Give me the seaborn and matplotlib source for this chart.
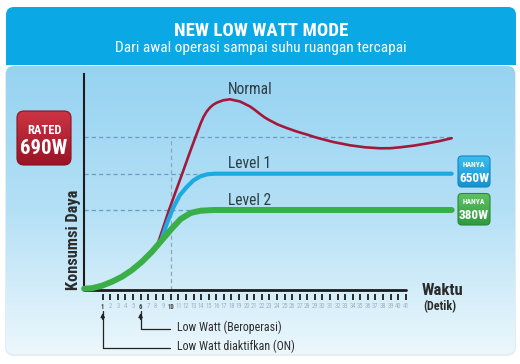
import numpy as np
import matplotlib
matplotlib.use("Agg")
import matplotlib.pyplot as plt
import seaborn as sns
from matplotlib.patches import FancyBboxPatch, Rectangle
from matplotlib.colors import LinearSegmentedColormap
from matplotlib.transforms import blended_transform_factory

# ---------------- data ----------------
normal_t = [8.1, 8.9, 9.66, 10.64, 11.6, 12.52, 13.3, 13.9, 14.3, 14.73, 15.17, 15.6,
            16.05, 16.9, 17.81, 19.13, 20.45, 21.1, 21.77, 22.4, 22.96, 24.1, 25.29,
            26.6, 27.93, 29.25, 31.44, 33.65, 35.63, 37.61, 39.0, 40.25, 42.0, 43.77,
            45.5, 47.07]
normal_p = [42.0, 60.0, 77.5, 98.0, 118.0, 137.5, 153.5, 165.5, 172.5, 178.0, 182.0, 184.8,
            186.8, 189.2, 190.2, 188.0, 183.0, 179.5, 175.5, 172.0, 169.5, 165.0, 161.5,
            158.0, 155.0, 151.8, 147.5, 144.2, 142.2, 141.2, 141.3, 142.2, 143.8, 146.0,
            148.5, 151.3]

level1_t = [8.66, 9.45, 10.32, 11.20, 12.09, 12.96, 13.84, 14.77, 15.82, 47.07]
level1_p = [48.0, 65.5, 82.0, 94.5, 102.5, 109.0, 113.0, 115.2, 115.8, 115.8]

level2_t = [-1.45, -0.41, 0.91, 2.23, 3.55, 4.87, 6.19, 7.51, 8.83, 10.15, 11.30, 12.62,
            13.94, 15.69, 47.07]
level2_p = [0.8, 1.3, 3.8, 7.8, 12.8, 19.5, 27.8, 37.8, 49.5, 61.2, 70.5, 76.6,
            78.8, 79.5, 79.5]

ref_levels = [152.2, 115.8, 79.5]          # rated 690W / Level 1 / Level 2
ref_time = 10                               # vertical reference (detik)
series_names = ["Normal", "Level 1", "Level 2"]
tick_seconds = list(range(1, 42))
highlight_ticks = [1, 6, 10]
badge_texts = [("RATED", "690W"), ("HANYA", "650W"), ("HANYA", "380W")]
notes = [(6, "Low Watt (Beroperasi)"), (1, "Low Watt diaktifkan (ON)")]

# ---------------- style ----------------
sns.set_style("white")
plt.rcParams["font.family"] = ["Roboto Condensed", "Fira Sans Condensed", "DejaVu Sans"]

W, H = 520, 364
fig = plt.figure(figsize=(W / 100, H / 100), dpi=100, facecolor="white")

# background / decoration axes in pixel coordinates
bg = fig.add_axes([0, 0, 1, 1])
bg.set_xlim(0, W)
bg.set_ylim(H, 0)
bg.axis("off")


def grad_box(x, y, w, h, r, colors, edge=None, z=1):
    cmap = LinearSegmentedColormap.from_list("g", colors)
    im = bg.imshow(np.linspace(0, 1, 256)[:, None], extent=(x, x + w, y + h, y),
                   cmap=cmap, aspect="auto", zorder=z, interpolation="bilinear")
    box = FancyBboxPatch((x, y), w, h, boxstyle=f"round,pad=0,rounding_size={r}",
                         fc="none", ec=edge if edge else "none", lw=0.8, zorder=z + 0.1)
    bg.add_patch(box)
    im.set_clip_path(box)


# chart panel (light blue gradient)
bg.add_patch(FancyBboxPatch((5, 66), 511, 290, boxstyle="round,pad=0,rounding_size=9",
                            fc="#e4edf2", ec="none", zorder=0.5))
grad_box(6, 66, 509, 288, 8, ["#96D3F1", "#B4E0F6", "#ECF7FC"], z=0.6)
# header
bg.add_patch(FancyBboxPatch((6, 7), 510, 58, boxstyle="round,pad=0,rounding_size=8",
                            fc="#0BA8E6", ec="none", zorder=2))
bg.add_patch(Rectangle((6, 40), 510, 25, fc="#0BA8E6", ec="none", zorder=2))
bg.text(261, 36, "NEW LOW WATT MODE", color="white", fontsize=13.6, weight="bold",
        ha="center", va="baseline", zorder=3)
bg.text(261, 51.7, "Dari awal operasi sampai suhu ruangan tercapai", color="white",
        fontsize=11.1, ha="center", va="baseline", zorder=3)

# badges
grad_box(17, 111, 54, 54, 7, ["#CC3443", "#9A1425"], edge="#8a1020", z=3)
bg.text(44, 134, badge_texts[0][0], color="white", fontsize=9, weight="bold",
        ha="center", va="baseline", zorder=4)
bg.text(44, 154.3, badge_texts[0][1], color="white", fontsize=15, weight="bold",
        ha="center", va="baseline", zorder=4)

grad_box(458, 156, 32, 31, 4, ["#3CBDF0", "#1592D0"], edge="#1386c0", z=3)
bg.text(474, 167.3, badge_texts[1][0], color="white", fontsize=5.5, weight="bold",
        ha="center", va="baseline", zorder=4)
bg.text(474, 181.7, badge_texts[1][1], color="white", fontsize=9.5, weight="bold",
        ha="center", va="baseline", zorder=4)

grad_box(458, 193.5, 32, 31.5, 4, ["#62C165", "#2E9A3E"], edge="#27893a", z=3)
bg.text(474, 204.3, badge_texts[2][0], color="white", fontsize=5.5, weight="bold",
        ha="center", va="baseline", zorder=4)
bg.text(474, 219, badge_texts[2][1], color="white", fontsize=9.5, weight="bold",
        ha="center", va="baseline", zorder=4)

# ---------------- main chart axes ----------------
px_l, px_r, py_t, py_b = 84, 470, 74, 289.5
ax = fig.add_axes([px_l / W, (H - py_b) / H, (px_r - px_l) / W, (py_b - py_t) / H])
ax.set_facecolor("none")
x0 = 1 + (px_l - 102.7) / 7.575
x1 = 1 + (px_r - 102.7) / 7.575
ax.set_xlim(x0, x1)
ax.set_ylim(0, py_b - py_t)

# reference dashed lines
line_end = level2_t[-1]
ax.hlines(ref_levels, x0, line_end, colors="#6C9EC0", linewidth=0.9,
          linestyles=(0, (3.4, 2.4)), zorder=1)
ax.vlines(ref_time, 0, ref_levels[0], colors="#8AA9BF", linewidth=0.9,
          linestyles=(0, (3.4, 2.4)), zorder=1)

sns.lineplot(x=normal_t, y=normal_p, ax=ax, color="#A3193B", linewidth=1.9,
             solid_capstyle="round", solid_joinstyle="round", clip_on=False, zorder=3)
sns.lineplot(x=level1_t, y=level1_p, ax=ax, color="#1DA9E2", linewidth=3.0,
             solid_capstyle="round", solid_joinstyle="round", clip_on=False, zorder=4)
sns.lineplot(x=level2_t, y=level2_p, ax=ax, color="#3AAE47", linewidth=4.3,
             solid_capstyle="round", solid_joinstyle="round", clip_on=False, zorder=5)

for name, ps in zip(series_names, [normal_p, level1_p, level2_p]):
    ax.text(17.5, max(ps) + 5.2, name, fontsize=11.2, color="#2e3c46",
            ha="left", va="baseline", zorder=6)

# axes styling
for s in ["top", "right"]:
    ax.spines[s].set_visible(False)
ax.spines["left"].set_color("#1c1c1c")
ax.spines["left"].set_linewidth(1.5)
ax.spines["bottom"].set_position(("outward", 3))
ax.spines["bottom"].set_visible(False)
ax.axhline(0, xmin=0, xmax=(tick_seconds[-1] - x0) / (x1 - x0), color="#1c1c1c",
           linewidth=2.0, zorder=2, clip_on=False)

ax.set_yticks([])
ax.set_xticks(tick_seconds)
ax.set_xticklabels([str(t) for t in tick_seconds])
ax.tick_params(axis="x", direction="out", length=4.6, width=1.3, color="#1c1c1c",
               pad=2.2, labelsize=4.8, labelcolor="#a4b2bb", bottom=True)
for lab in ax.get_xticklabels():
    if int(lab.get_text()) in highlight_ticks:
        lab.set_color("#3a3a3a")
        lab.set_fontweight("bold")

ax.set_ylabel("Konsumsi Daya", fontsize=11.8, weight="bold", color="#2b2b2b")
ax.yaxis.set_label_coords((73.5 - px_l) / (px_r - px_l), (py_b - 240) / (py_b - py_t))
ax.yaxis.label.set_va("center")

ax.set_xlabel("Waktu", fontsize=12, weight="bold", color="#2b2b2b")
ax.xaxis.set_label_coords((422 - px_l) / (px_r - px_l), (py_b - 295) / (py_b - py_t))
ax.xaxis.label.set_ha("left")
ax.xaxis.label.set_va("baseline")
ax.text((423 - px_l) / (px_r - px_l), (py_b - 310.5) / (py_b - py_t), "(Detik)",
        transform=ax.transAxes, fontsize=8.7, weight="bold", color="#2b2b2b",
        ha="left", va="baseline")

# annotations below the time axis
trans = blended_transform_factory(ax.transData, ax.transAxes)
hpx = py_b - py_t
tip = (py_b - 313) / hpx
for (sec, label), py in zip(notes, [329.3, 348.3]):
    yl = (py_b - py) / hpx
    ax.plot([sec, sec, ref_time - 0.12], [tip + 0.01, yl, yl], transform=trans,
            color="#222222", linewidth=0.9, clip_on=False)
    ax.annotate("", xy=(sec, tip), xytext=(sec, tip - 0.03), xycoords=trans,
                textcoords=trans,
                arrowprops=dict(arrowstyle="-|>", color="#222222", lw=0.9,
                                mutation_scale=6, shrinkA=0, shrinkB=0))
    ax.text(10.81, (py_b - py - 1.4) / hpx, label, transform=trans, fontsize=8.6,
            color="#2b2b2b", ha="left", va="baseline")

fig.savefig("out.png", dpi=100, facecolor="white")
